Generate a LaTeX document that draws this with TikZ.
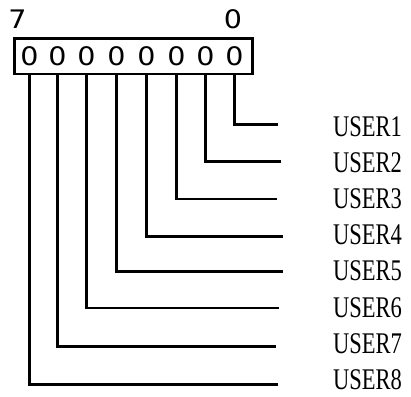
\documentclass[tikz,border=0pt]{standalone}
\usepackage{graphicx}
\usepackage{fontspec}
\setmainfont{Liberation Serif}
\newfontfamily\bitfont{DejaVu Sans}
\newcommand\widebit[1]{\scalebox{1.12}[1]{#1}}
\newcommand\narrowlabel[1]{\scalebox{0.75}[1]{#1}}
\begin{document}
\begin{tikzpicture}[x=1pt,y=-1pt,
  wire/.style={line width=2.5pt},
  bitdigit/.style={font=\bitfont\fontsize{25.5}{25.5}\selectfont, inner sep=0pt},
  userlabel/.style={font=\fontsize{30}{30}\selectfont, anchor=base west, inner sep=0pt}]
\useasboundingbox (0,0) rectangle (411,396);
% register box
\node[draw, line width=2.5pt, minimum width=238pt, minimum height=35pt,
      inner sep=0pt, anchor=north west] (reg) at (13,37.5) {};
% bit numbers above the register
\node[bitdigit] (hi) at (17.5,19) {\widebit{7}};
\node[bitdigit] (lo) at (233,19.5) {\widebit{0}};
% bits, their wires and the user labels
\foreach \i/\x/\y/\e in {0/230/124.3/278, 1/201/161.7/281, 2/172/199/277,
                         3/142/236.7/283, 4/112/271.7/283, 5/82/308/279,
                         6/53/346.5/276, 7/25/384.5/278} {
  \pgfmathtruncatemacro\n{\i+1}
  \pgfmathsetmacro\base{136.5+36.1*\i}
  \node[bitdigit] (b\i) at (\x+4.5,56.5) {\widebit{0}};
  \coordinate (c\i) at (\e,\y);
  \node[userlabel] (u\i) at (333,\base) {\narrowlabel{USER\n}};
  \draw[wire] (b\i |- reg.south) |- (c\i);
}
\end{tikzpicture}
\end{document}
